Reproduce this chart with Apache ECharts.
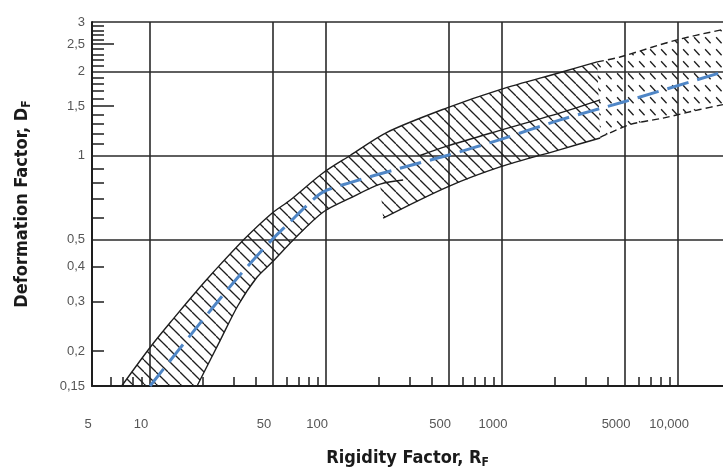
<!DOCTYPE html>
<html>
<head>
<meta charset="utf-8">
<script src="https://cdn.jsdelivr.net/npm/echarts@6/dist/echarts.min.js"></script>
<style>
  html, body { margin: 0; padding: 0; background: #fff; }
  #main { width: 723px; height: 473px; }
</style>
</head>
<body>
<div id="main"></div>
<script>
// axis ticks / labels
const xLabelValues = [5, 10, 50, 100, 500, 1000, 5000, 10000];
const xGridValues = [10, 50, 100, 500, 1000, 5000, 10000];
const xMinorTicks = [6, 7, 8, 9, 20, 30, 40, 60, 70, 80, 90, 200, 300, 400, 600, 700, 800, 900,
  2000, 3000, 4000, 6000, 7000, 8000, 9000];
const yLabelValues = [0.15, 0.2, 0.3, 0.4, 0.5, 1, 1.5, 2, 2.5, 3];
const yGridValues = [0.5, 1, 2, 3];
const yMinorTicks = [0.2, 0.3, 0.4, 0.6, 0.7, 0.8, 0.9, 1.1, 1.2, 1.3, 1.4, 1.6, 1.7, 1.8, 1.9,
  2.1, 2.2, 2.3, 2.4, 2.6, 2.7, 2.8, 2.9];
const yLongTicks = [1.5, 2.5];

// band outlines [R_F, D_F]
const upperEdge = [[6.9, 0.15], [10, 0.206], [13.3, 0.257], [19.2, 0.338], [22.8, 0.382], [34.7, 0.506],
  [49.3, 0.622], [62.4, 0.692], [96, 0.866], [137, 1.0], [222, 1.21], [487, 1.48], [975, 1.72],
  [2140, 1.98], [3470, 2.16]];
const upperEdgeDashed = [[3470, 2.16], [4680, 2.25], [9860, 2.59], [18000, 2.82]];
const band1Lower = [[18.5, 0.15], [25, 0.218], [31.6, 0.291], [40.5, 0.367], [49.3, 0.415], [64.9, 0.498],
  [96, 0.627], [137, 0.704], [203, 0.79], [274, 0.817]];
const band2Lower = [[211, 0.597], [487, 0.771], [975, 0.91], [2140, 1.05], [3610, 1.155]];
const middleEdge = [[342, 1.0], [487, 1.08], [975, 1.23], [2140, 1.42], [3610, 1.58]];
const band3Lower = [[3610, 1.16], [5340, 1.29], [8220, 1.36], [13300, 1.46], [18000, 1.52]];
const meanLine = [[10, 0.15], [18.7, 0.246], [31.6, 0.367], [49.3, 0.5], [62.4, 0.578], [76, 0.654],
  [96, 0.74], [137, 0.8], [263, 0.9], [487, 1.0], [975, 1.14], [2140, 1.34], [5000, 1.56], [18000, 1.99]];

const xMin = 4.68, xMax = 18000, yMin = 0.15, yMax = 3;
const ink = '#1e1e1e';
const titleFont = "'Liberation Sans Narrow', 'DejaVu Sans Condensed', 'Roboto Condensed', Roboto, sans-serif";

function hatch(w, h, dashed) {
  const c = document.createElement('canvas');
  c.width = w; c.height = h;
  const ctx = c.getContext('2d');
  ctx.strokeStyle = ink;
  ctx.lineWidth = 1.3;
  [-w, 0, w].forEach(function (dx) {
    ctx.beginPath();
    if (dashed) {
      ctx.moveTo(dx + w * 0.1, h * 0.1);
      ctx.lineTo(dx + w * 0.6, h * 0.6);
    } else {
      ctx.moveTo(dx, 0);
      ctx.lineTo(dx + w, h);
    }
    ctx.stroke();
  });
  return c;
}

function bandSeries(points, pattern) {
  return {
    type: 'custom',
    coordinateSystem: 'cartesian2d',
    data: points,
    silent: true,
    z: 1,
    renderItem: function (params, api) {
      if (params.dataIndex !== 0) return;
      return {
        type: 'polygon',
        shape: { points: points.map(function (p) { return api.coord(p); }) },
        style: { fill: { image: pattern, repeat: 'repeat' }, stroke: null }
      };
    }
  };
}

function edge(points, dashed) {
  return {
    type: 'line',
    data: points,
    symbol: 'none',
    smooth: 0.3,
    silent: true,
    z: 2,
    lineStyle: { color: ink, width: 1.4, type: dashed ? [7, 4] : 'solid' }
  };
}

const solidBand = upperEdge.concat(band2Lower.slice().reverse(), band1Lower.slice(0, 9).reverse());
const dashedBand = upperEdgeDashed.concat(band3Lower.slice().reverse());

const chart = echarts.init(document.getElementById('main'));
const titleStyle = {
  color: '#1a1a1a',
  rich: {
    a: { fontFamily: titleFont, fontWeight: 'bold', fontSize: 18, color: '#1a1a1a', lineHeight: 22 },
    b: { fontFamily: titleFont, fontWeight: 'bold', fontSize: 12, color: '#1a1a1a', lineHeight: 22, verticalAlign: 'bottom' }
  }
};
const labelStyle = { color: '#555', fontSize: 13, fontFamily: 'Liberation Sans' };

const option = {
  animation: false,
  grid: { left: 92, top: 22, right: 0, bottom: 87, outerBoundsMode: 'none' },
  xAxis: [
    {
      type: 'log', logBase: 10, min: xMin, max: xMax, position: 'bottom',
      name: '{a|Rigidity Factor, R}{b|F}', nameLocation: 'middle', nameGap: 61, nameTextStyle: titleStyle,
      axisLine: { show: true, onZero: false, lineStyle: { color: ink, width: 2 } },
      axisTick: { show: true, inside: true, length: 9, customValues: xMinorTicks, lineStyle: { color: ink, width: 1.5 } },
      axisLabel: Object.assign({
        customValues: xLabelValues, margin: 32, padding: [0, 18, 0, 0],
        formatter: function (v) { return v === 10000 ? '10,000' : String(v); }
      }, labelStyle),
      splitLine: { show: false }
    },
    {
      type: 'log', logBase: 10, min: xMin, max: xMax, position: 'bottom',
      axisLine: { show: false }, axisLabel: { show: false },
      axisTick: { show: false, customValues: xGridValues },
      splitLine: { show: true, lineStyle: { color: '#2a2a2a', width: 1.6 } }
    }
  ],
  yAxis: [
    {
      type: 'log', logBase: 10, min: yMin, max: yMax, position: 'left',
      name: '{a|Deformation Factor, D}{b|F}', nameLocation: 'middle', nameGap: 59, nameTextStyle: titleStyle,
      axisLine: { show: true, lineStyle: { color: ink, width: 2 } },
      axisTick: { show: true, inside: true, length: 12, customValues: yMinorTicks, lineStyle: { color: ink, width: 1.5 } },
      axisLabel: Object.assign({
        customValues: yLabelValues, margin: 7,
        formatter: function (v) { return String(v).replace('.', ','); }
      }, labelStyle),
      splitLine: { show: false }
    },
    {
      type: 'log', logBase: 10, min: yMin, max: yMax, position: 'left',
      axisLine: { show: false }, axisLabel: { show: false },
      axisTick: { show: true, inside: true, length: 22, customValues: yLongTicks, lineStyle: { color: ink, width: 1.5 } },
      splitLine: { show: false }
    },
    {
      type: 'log', logBase: 10, min: yMin, max: yMax, position: 'left',
      axisLine: { show: false }, axisLabel: { show: false },
      axisTick: { show: false, customValues: yGridValues },
      splitLine: { show: true, lineStyle: { color: '#2a2a2a', width: 1.6 } }
    }
  ],
  series: [
    bandSeries(solidBand, hatch(12, 12, false)),
    bandSeries(dashedBand, hatch(11, 12, true)),
    edge(upperEdge, false),
    edge(band1Lower, false),
    edge(band2Lower, false),
    edge(middleEdge, false),
    edge(upperEdgeDashed, true),
    edge(band3Lower, true),
    {
      type: 'line',
      data: meanLine,
      symbol: 'none',
      smooth: 0.3,
      silent: true,
      z: 3,
      lineStyle: { color: '#4f86c6', width: 3, type: [22, 9] }
    }
  ]
};

chart.setOption(option);
</script>
</body>
</html>
